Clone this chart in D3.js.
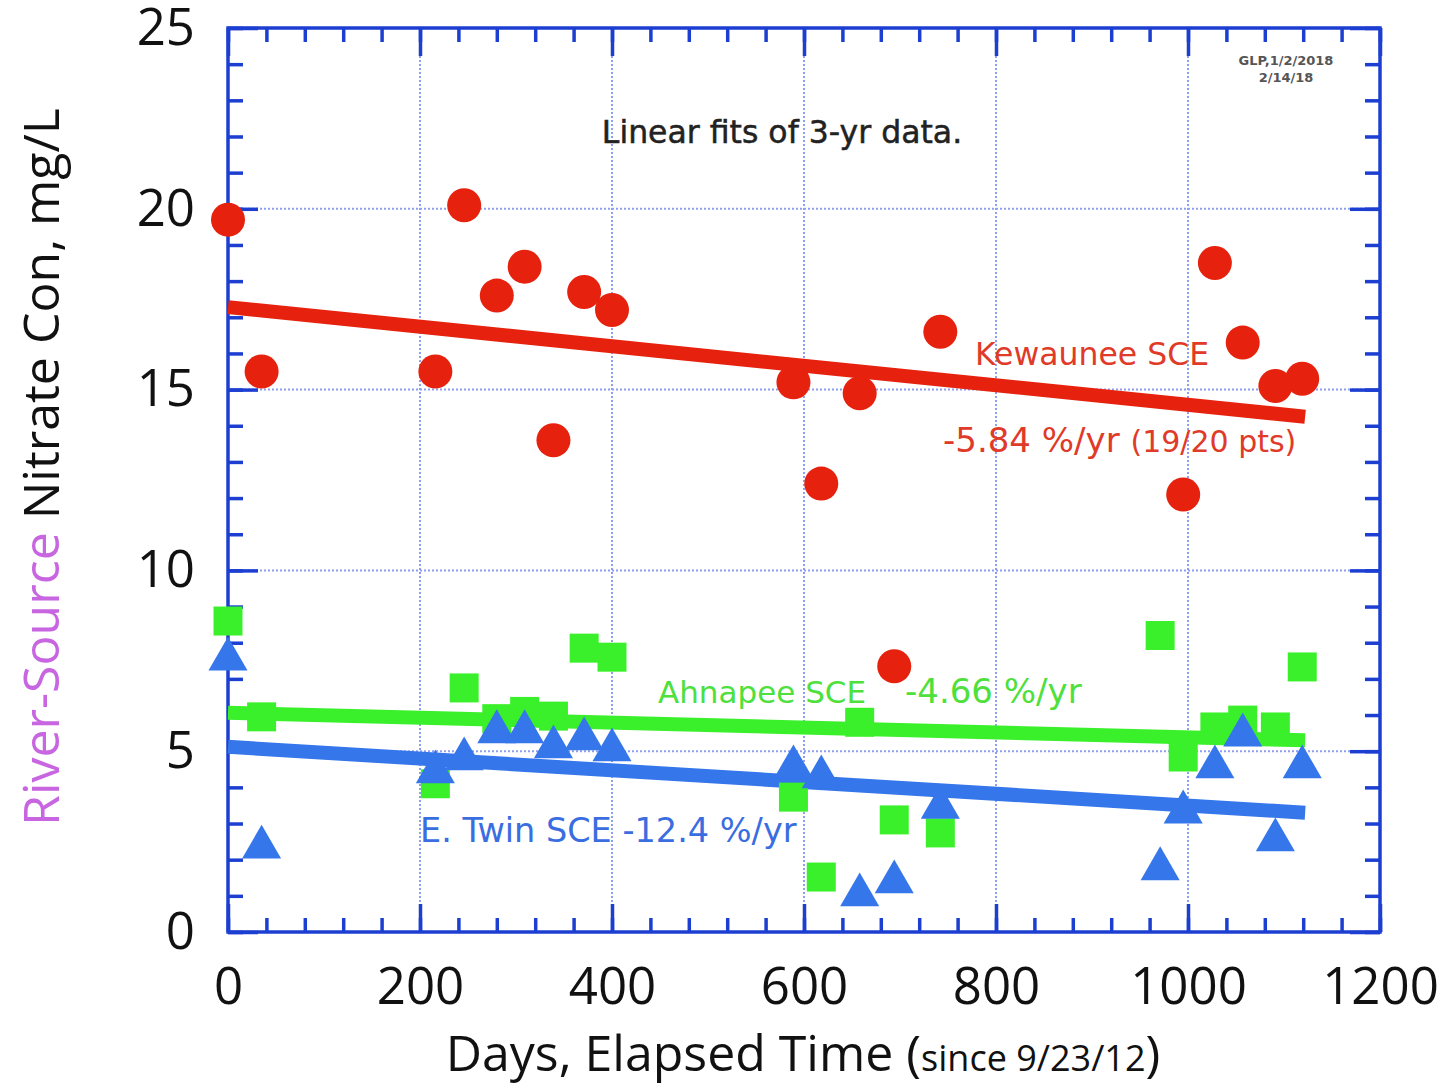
<!DOCTYPE html>
<html>
<head>
<meta charset="utf-8">
<script src="https://cdn.jsdelivr.net/npm/d3@7"></script>
<style>
  body { margin: 0; background: #fff; }
  svg { font-family: "Open Sans", sans-serif; }
  .note { font-family: "DejaVu Sans", sans-serif; }
</style>
</head>
<body>
<script>
// sample days since 9/23/12
const days = [0, 35, 216, 246, 280, 309, 339, 371, 400, 589, 618, 658, 694, 742, 971, 995, 1028, 1057, 1091, 1119];
const kewaunee = [19.7, 15.5, 15.5, 20.1, 17.6, 18.4, 13.6, 17.7, 17.2, 15.2, 12.4, 14.9, 7.35, 16.6, null, 12.1, 18.5, 16.3, 15.1, 15.3];
const ahnapee = [8.6, 5.95, 4.1, 6.75, 5.9, 6.1, 5.97, 7.85, 7.6, 3.73, 1.52, 5.8, 3.1, 2.74, 8.2, 4.84, 5.67, 5.86, 5.67, 7.33];
const eTwin = [7.6, 2.4, 4.48, 4.84, 5.59, 5.59, 5.17, 5.39, 5.09, 4.62, 4.34, 1.08, 1.44, 3.5, 1.8, 3.37, 4.62, 5.5, 2.6, 4.62];
// linear fit end points [day, mg/L]
const kewauneeFit = [[0, 17.28], [1122, 14.25]];
const ahnapeeFit = [[0, 6.06], [1122, 5.3]];
const eTwinFit = [[0, 5.12], [1122, 3.3]];
const xTicks = [0, 200, 400, 600, 800, 1000, 1200];
const yTicks = [0, 5, 10, 15, 20, 25];

window.onload = function () {
  let width = 1445;
  let height = 1088;
  let margin = { top: 28, right: 65, bottom: 156, left: 228 };
  let innerW = width - margin.left - margin.right;
  let innerH = height - margin.top - margin.bottom;

  const red = "#e6220e";
  const green = "#3af02a";
  const blue = "#3576ea";
  const frame = "#1c3fd2";

  let svg = d3.select("body").append("svg").attr("width", width).attr("height", height);
  let g = svg.append("g").attr("transform", `translate(${margin.left},${margin.top})`);

  let x = d3.scaleLinear().domain([0, 1200]).range([0, innerW]);
  let y = d3.scaleLinear().domain([0, 25]).range([innerH, 0]);

  // grid
  g.append("g")
    .selectAll("line")
    .data(xTicks.slice(1, -1))
    .join("line")
    .attr("x1", (d) => x(d)).attr("x2", (d) => x(d))
    .attr("y1", 0).attr("y2", innerH)
    .attr("stroke", "#8e9ef0").attr("stroke-width", 2).attr("stroke-dasharray", "2,2");
  g.append("g")
    .selectAll("line")
    .data(yTicks.slice(1, -1))
    .join("line")
    .attr("y1", (d) => y(d)).attr("y2", (d) => y(d))
    .attr("x1", 0).attr("x2", innerW)
    .attr("stroke", "#8e9ef0").attr("stroke-width", 2).attr("stroke-dasharray", "2,2");

  // ticks on all four sides, pointing inward
  const xMinor = d3.range(0, 1201, 40);
  const yMinor = d3.range(0, 26, 1);
  function styleAxis(sel) {
    sel.select(".domain").remove();
    sel.selectAll("line").attr("stroke", frame).attr("stroke-width", 3.5);
  }
  g.append("g").attr("transform", `translate(0,${innerH})`)
    .call(d3.axisBottom(x).tickValues(xMinor).tickSize(-14).tickFormat("")).call(styleAxis);
  g.append("g")
    .call(d3.axisTop(x).tickValues(xMinor).tickSize(-14).tickFormat("")).call(styleAxis);
  g.append("g")
    .call(d3.axisLeft(y).tickValues(yMinor).tickSize(-15).tickFormat("")).call(styleAxis);
  g.append("g").attr("transform", `translate(${innerW},0)`)
    .call(d3.axisRight(y).tickValues(yMinor).tickSize(-15).tickFormat("")).call(styleAxis);

  let xAxis = g.append("g").attr("transform", `translate(0,${innerH})`)
    .call(d3.axisBottom(x).tickValues(xTicks).tickSize(-28).tickPadding(36).tickFormat(d3.format("d")))
    .call(styleAxis);
  g.append("g").call(d3.axisTop(x).tickValues(xTicks).tickSize(-28).tickFormat("")).call(styleAxis);
  let yAxis = g.append("g")
    .call(d3.axisLeft(y).tickValues(yTicks).tickSize(-30).tickPadding(33).tickFormat(d3.format("d")))
    .call(styleAxis);
  g.append("g").attr("transform", `translate(${innerW},0)`)
    .call(d3.axisRight(y).tickValues(yTicks).tickSize(-30).tickFormat("")).call(styleAxis);

  [xAxis, yAxis].forEach((a) =>
    a.selectAll("text").attr("font-size", 51).attr("fill", "#111").attr("font-family", "Open Sans, sans-serif")
  );

  // frame
  g.append("rect")
    .attr("width", innerW).attr("height", innerH)
    .attr("fill", "none").attr("stroke", frame).attr("stroke-width", 3.5);

  // fit lines
  let line = d3.line().x((d) => x(d[0])).y((d) => y(d[1]));
  [[kewauneeFit, red], [ahnapeeFit, green], [eTwinFit, blue]].forEach(([fit, c]) => {
    g.append("path").attr("d", line(fit)).attr("stroke", c).attr("stroke-width", 14).attr("fill", "none");
  });

  // markers
  const pts = (vals) => days.map((d, i) => [d, vals[i]]).filter((p) => p[1] != null);
  g.append("g")
    .selectAll("rect")
    .data(pts(ahnapee))
    .join("rect")
    .attr("x", (d) => x(d[0]) - 14.5).attr("y", (d) => y(d[1]) - 14.5)
    .attr("width", 29).attr("height", 29)
    .attr("fill", green);
  let tri = d3.symbol().type(d3.symbolTriangle).size(660);
  g.append("g")
    .selectAll("path")
    .data(pts(eTwin))
    .join("path")
    .attr("d", tri)
    .attr("transform", (d) => `translate(${x(d[0])},${y(d[1]) + 2})`)
    .attr("fill", blue);
  g.append("g")
    .selectAll("circle")
    .data(pts(kewaunee))
    .join("circle")
    .attr("cx", (d) => x(d[0])).attr("cy", (d) => y(d[1]))
    .attr("r", 17)
    .attr("fill", red);

  // annotations
  svg.append("text").attr("class", "note").attr("x", 782).attr("y", 143).attr("text-anchor", "middle")
    .attr("font-size", 31.5).attr("fill", "#222").attr("stroke", "#222").attr("stroke-width", 0.5)
    .text("Linear fits of 3-yr data.");
  svg.append("text").attr("class", "note").attr("x", 1286).attr("y", 65).attr("text-anchor", "middle")
    .attr("font-size", 13).attr("font-weight", 700).attr("fill", "#555").text("GLP,1/2/2018");
  svg.append("text").attr("class", "note").attr("x", 1286).attr("y", 82).attr("text-anchor", "middle")
    .attr("font-size", 13).attr("font-weight", 700).attr("fill", "#555").text("2/14/18");

  svg.append("text").attr("class", "note").attr("x", 975).attr("y", 365).attr("font-size", 31.5)
    .attr("fill", "#e03a28").text("Kewaunee SCE");
  let k = svg.append("text").attr("class", "note").attr("x", 943).attr("y", 452).attr("fill", "#e03a28");
  k.append("tspan").attr("font-size", 34).text("-5.84 %/yr ");
  k.append("tspan").attr("font-size", 30).text("(19/20 pts)");

  svg.append("text").attr("class", "note").attr("x", 658).attr("y", 703).attr("font-size", 31)
    .attr("fill", "#4ee03c").text("Ahnapee SCE");
  svg.append("text").attr("class", "note").attr("x", 905).attr("y", 703).attr("font-size", 34)
    .attr("fill", "#4ee03c").text("-4.66 %/yr");
  svg.append("text").attr("class", "note").attr("x", 420).attr("y", 842).attr("font-size", 33.5)
    .attr("fill", "#3a6ee0").text("E. Twin SCE -12.4 %/yr");

  // axis titles
  let xt = svg.append("text").attr("x", 803).attr("y", 1071).attr("text-anchor", "middle").attr("fill", "#111");
  xt.append("tspan").attr("font-size", 50).text("Days, Elapsed Time (");
  xt.append("tspan").attr("font-size", 36).text("since 9/23/12");
  xt.append("tspan").attr("font-size", 50).text(")");

  let yt = svg.append("text").attr("transform", "translate(59,467) rotate(-90)")
    .attr("text-anchor", "middle").attr("font-size", 50);
  yt.append("tspan").attr("fill", "#c865e0").text("River-Source");
  yt.append("tspan").attr("fill", "#111").text(" Nitrate Con, mg/L");
};
</script>
</body>
</html>
